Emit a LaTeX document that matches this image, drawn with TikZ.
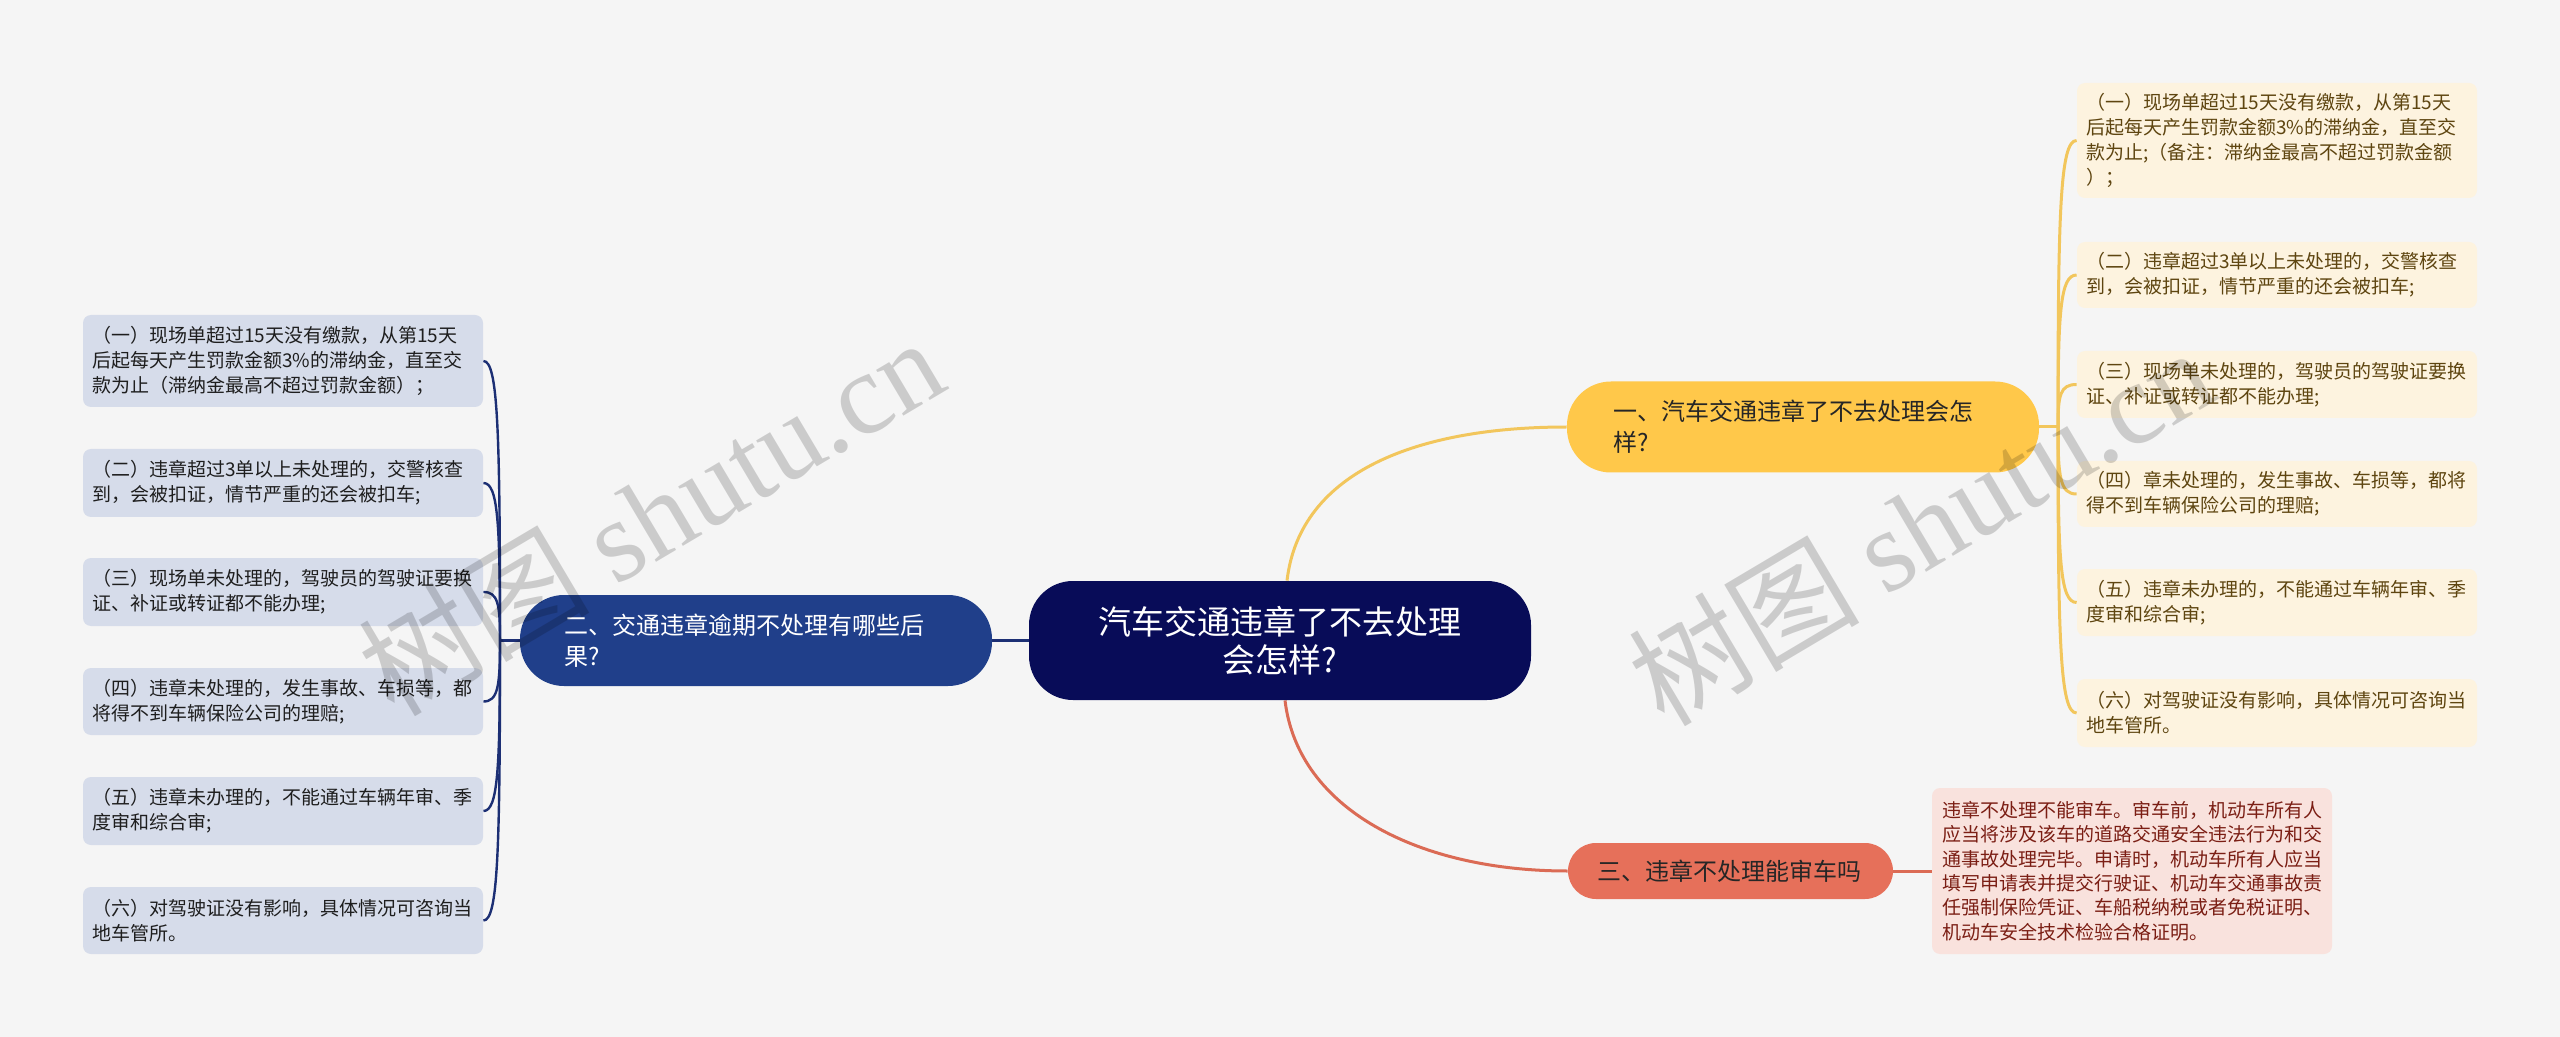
\documentclass[tikz,border=0pt]{standalone}
\usepackage{fontspec}
\setmainfont{Noto Sans CJK SC}
\newfontfamily\wmserif{Liberation Serif}
\usetikzlibrary{backgrounds}
\definecolor{bgc}{HTML}{F5F5F5}
\definecolor{cfill}{HTML}{080C58}
\definecolor{twofill}{HTML}{203F8A}
\definecolor{navyline}{HTML}{1C2F74}
\definecolor{onefill}{HTML}{FFC84A}
\definecolor{yline}{HTML}{F2C65C}
\definecolor{threefill}{HTML}{E6705A}
\definecolor{rline}{HTML}{DB6B55}
\definecolor{rfill}{HTML}{FDF3DF}
\definecolor{rtext}{HTML}{5E4510}
\definecolor{lfill}{HTML}{D6DCEA}
\definecolor{ltext}{HTML}{1E1E1E}
\definecolor{dfill}{HTML}{F9E2DD}
\definecolor{dtext}{HTML}{7B1E14}
\tikzset{
  leafbox/.style={rounded corners=4pt, inner xsep=4.5pt, inner ysep=0pt, align=left,
    font=\fontsize{9.5}{12.4}\selectfont, text width=191pt, minimum width=200pt},
  rbox/.style={leafbox, fill=rfill, text=rtext},
  lbox/.style={leafbox, fill=lfill, text=ltext},
  topic/.style={rounded corners=22pt, inner xsep=22pt, inner ysep=0pt, align=left,
    font=\fontsize{12}{15.5}\selectfont, text width=192pt, minimum width=236pt, minimum height=45.5pt},
  yconn/.style={draw=yline, line width=1.5pt},
  nconn/.style={draw=navyline, line width=1.2pt},
  rconn/.style={draw=rline, line width=1.5pt},
  wmark/.style={rotate=30.7, text=black, opacity=0.17, font=\fontsize{58}{60}\selectfont, inner sep=0pt},
}
\begin{document}
\begin{tikzpicture}[x=0.5pt, y=-0.5pt]
\useasboundingbox (0,0) rectangle (2560,1037);

% central
\node[fill=cfill, text=white, rounded corners=22pt, minimum width=251pt, minimum height=59.5pt,
  align=center, inner sep=0pt, font=\fontsize{16.5}{19}\selectfont] (c) at (1280,640.5)
  {汽车交通违章了不去处理\\会怎样?};

% main topics
\node[topic, fill=twofill, text=white] (two) at (756,640.5)
  {二、交通违章逾期不处理有哪些后\\果?};
\node[topic, fill=onefill, text=black!85, inner xsep=23pt, text width=190pt] (one) at (1803,427)
  {一、汽车交通违章了不去处理会怎\\样?};
\node[fill=threefill, text=black!85, rounded corners=14pt, inner xsep=14.5pt, inner ysep=0pt,
  align=left, text width=133.5pt, minimum width=162.5pt, minimum height=28pt,
  font=\fontsize{12}{15}\selectfont] (three) at (1730.5,871)
  {三、违章不处理能审车吗};
\node[fill=dfill, text=dtext, rounded corners=4pt, inner xsep=5pt, inner ysep=0pt, align=left,
  text width=190pt, minimum width=200pt, minimum height=83pt,
  font=\fontsize{9.5}{12.2}\selectfont] (d) at (2132,871)
  {违章不处理不能审车。审车前，机动车所有人\\应当将涉及该车的道路交通安全违法行为和交\\通事故处理完毕。申请时，机动车所有人应当\\填写申请表并提交行驶证、机动车交通事故责\\任强制保险凭证、车船税纳税或者免税证明、\\机动车安全技术检验合格证明。};

% right leaves
\node[rbox, minimum height=57.5pt] (r1) at (2277,140.5)
  {（一）现场单超过15天没有缴款，从第15天\\后起每天产生罚款金额3\%的滞纳金，直至交\\款为止;（备注：滞纳金最高不超过罚款金额\\）；};
\node[rbox, minimum height=33pt] (r2) at (2277,275)
  {（二）违章超过3单以上未处理的，交警核查\\到，会被扣证，情节严重的还会被扣车;};
\node[rbox, minimum height=33.5pt] (r3) at (2277,384.5)
  {（三）现场单未处理的，驾驶员的驾驶证要换\\证、补证或转证都不能办理;};
\node[rbox, minimum height=33pt] (r4) at (2277,494)
  {（四）章未处理的，发生事故、车损等，都将\\得不到车辆保险公司的理赔;};
\node[rbox, minimum height=33.5pt] (r5) at (2277,602.5)
  {（五）违章未办理的，不能通过车辆年审、季\\度审和综合审;};
\node[rbox, minimum height=34pt] (r6) at (2277,713)
  {（六）对驾驶证没有影响，具体情况可咨询当\\地车管所。};

% left leaves
\node[lbox, minimum height=46pt] (l1) at (283,361)
  {（一）现场单超过15天没有缴款，从第15天\\后起每天产生罚款金额3\%的滞纳金，直至交\\款为止（滞纳金最高不超过罚款金额）；};
\node[lbox, minimum height=34pt] (l2) at (283,483)
  {（二）违章超过3单以上未处理的，交警核查\\到，会被扣证，情节严重的还会被扣车;};
\node[lbox, minimum height=34pt] (l3) at (283,592)
  {（三）现场单未处理的，驾驶员的驾驶证要换\\证、补证或转证都不能办理;};
\node[lbox, minimum height=33.5pt] (l4) at (283,701.5)
  {（四）违章未处理的，发生事故、车损等，都\\将得不到车辆保险公司的理赔;};
\node[lbox, minimum height=34pt] (l5) at (283,811)
  {（五）违章未办理的，不能通过车辆年审、季\\度审和综合审;};
\node[lbox, minimum height=33.5pt] (l6) at (283,920.5)
  {（六）对驾驶证没有影响，具体情况可咨询当\\地车管所。};

\coordinate (jl) at (500,640.5);
\coordinate (jr) at (2058,427);

\begin{scope}[on background layer]
\fill[bgc] (0,0) rectangle (2560,1037);
% central connectors
\draw[yconn] ([xshift=3.5pt]c.north) .. controls (1300,470) and (1420,427) .. (one.west);
\draw[rconn] ([xshift=2.5pt]c.south) .. controls (1298,810) and (1420,871) .. (three.west);
\draw[nconn] (c.west) -- (two.east);
\draw[rconn] (three.east) -- (d.west);
% right branch
\draw[yconn] (one.east) -- (jr);
\foreach \n/\cy in {r1/140.5, r2/275, r3/384.5, r4/494, r5/602.5, r6/713}{
  \draw[yconn] (jr) .. controls (2058,{\cy+(427-\cy)*0.25}) and (2060,\cy) .. (\n.west);
}
% left branch
\draw[nconn] (two.west) -- (jl);
\foreach \n/\cy in {l1/361, l2/483, l3/592, l4/701.5, l5/811, l6/920.5}{
  \draw[nconn] (jl) .. controls (500,{\cy+(640.5-\cy)*0.25}) and (498,\cy) .. (\n.east);
}
\end{scope}

% watermarks
\node[wmark] (wm1) at (650,515) {树图 {\wmserif shutu.cn}};
\node[wmark] (wm2) at (1920,525) {树图 {\wmserif shutu.cn}};
\end{tikzpicture}
\end{document}
